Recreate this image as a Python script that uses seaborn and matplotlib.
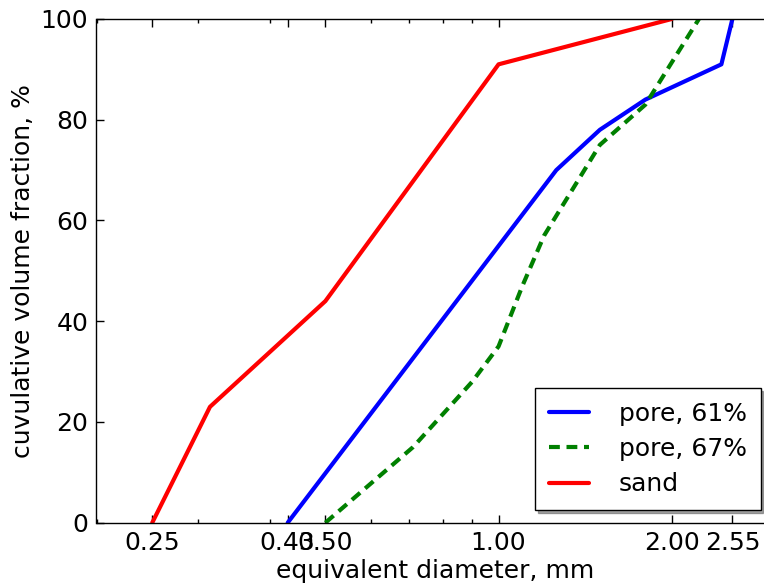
import numpy as np
import pandas as pd
import matplotlib
matplotlib.use('Agg')
import matplotlib.pyplot as plt
import matplotlib.ticker as mticker
import seaborn as sns

# cumulative curves
pore61_d = [0.43, 1.26, 1.5, 1.8, 2.44, 2.55]
pore61_v = [0, 70, 78, 84, 91, 100]
pore67_d = [0.5, 0.71, 0.9, 1.0, 1.1, 1.2, 1.5, 1.8, 2.23]
pore67_v = [0, 15, 28, 35, 47, 57, 75, 83, 100]
sand_d = [0.25, 0.315, 0.5, 1.0, 2.0]
sand_v = [0, 23, 44, 91, 100]
xticks = [0.25, 0.43, 0.50, 1.00, 2.00, 2.55]

df = pd.concat([
    pd.DataFrame({'d': pore61_d, 'v': pore61_v, 'name': 'pore, 61%'}),
    pd.DataFrame({'d': pore67_d, 'v': pore67_v, 'name': 'pore, 67%'}),
    pd.DataFrame({'d': sand_d, 'v': sand_v, 'name': 'sand'}),
])

sns.set_style("white", {'xtick.direction': 'in', 'ytick.direction': 'in',
                        'axes.edgecolor': 'black', 'text.color': 'black',
                        'axes.labelcolor': 'black', 'xtick.color': 'black',
                        'ytick.color': 'black'})
plt.rcParams['font.family'] = ['DejaVu Sans']
fs = 18

W, H = 764, 586
fig = plt.figure(figsize=(W / 100, H / 100), dpi=100)
ax = fig.add_axes([96.5 / W, 1 - 522.7 / H, (773 - 96.5) / W, (522.7 - 19) / H])

styles = {'pore, 61%': ('blue', '-'), 'pore, 67%': ('green', (0, (2.6, 1.6))), 'sand': ('red', '-')}
for name, g in df.groupby('name', sort=False):
    c, ls = styles[name]
    sns.lineplot(data=g, x='d', y='v', ax=ax, sort=False, estimator=None,
                 color=c, linestyle=ls, lw=3, label=name)

ax.set_xscale('log')
ax.set_xlim(0.2, 3.0)
ax.set_ylim(0, 100)
ax.xaxis.set_major_locator(mticker.FixedLocator(xticks))
ax.xaxis.set_major_formatter(mticker.FormatStrFormatter('%.2f'))
ax.xaxis.set_minor_locator(mticker.LogLocator(base=10, subs=np.arange(2, 10)))
ax.xaxis.set_minor_formatter(mticker.NullFormatter())
ax.set_yticks([0, 20, 40, 60, 80, 100])
ax.tick_params(which='both', direction='in', top=True, right=True, bottom=True, left=True,
               labelsize=fs, color='black', labelcolor='black')
ax.tick_params(which='major', length=6, width=1, pad=6)
ax.tick_params(which='minor', length=3, width=1)
for s in ax.spines.values():
    s.set_linewidth(1.0)
    s.set_color('black')

ax.set_xlabel('equivalent diameter, mm', fontsize=fs, labelpad=3, color='black')
ax.set_ylabel('cuvulative volume fraction, %', fontsize=fs, labelpad=4, color='black')

leg = ax.legend(loc='lower right', bbox_to_anchor=(760.7 / W, 1 - 510 / H),
                bbox_transform=fig.transFigure, borderaxespad=0, fontsize=fs,
                frameon=True, fancybox=False, shadow=True, handlelength=1.6,
                handletextpad=1.2, borderpad=0.55, labelspacing=0.45)
leg.get_frame().set_edgecolor('black')
leg.get_frame().set_linewidth(1.0)
for t in leg.get_texts():
    t.set_color('black')

fig.savefig('out.png', dpi=100)
